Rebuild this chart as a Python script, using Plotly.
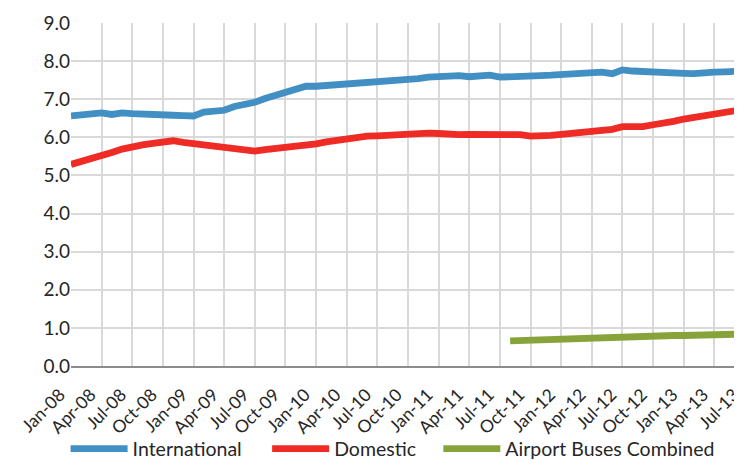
import plotly.graph_objects as go

months = []
for yr in range(8, 14):
    for m in ["Jan", "Feb", "Mar", "Apr", "May", "Jun", "Jul", "Aug", "Sep", "Oct", "Nov", "Dec"]:
        months.append(f"{m}-{yr:02d}")
months = months[:67]  # Jan-08 .. Jul-13

international = [
    6.56, 6.59, 6.62, 6.64, 6.60, 6.64, 6.62, 6.62, 6.62, 6.58, 6.58, 6.57,
    6.56, 6.66, 6.68, 6.71, 6.81, 6.86, 6.92, 7.02, 7.10, 7.18, 7.26, 7.34,
    7.34, 7.36, 7.37, 7.39, 7.39, 7.41, 7.44, 7.47, 7.51, 7.52, 7.54, 7.58,
    7.60, 7.61, 7.62, 7.59, 7.61, 7.63, 7.58, 7.58, 7.58, 7.59, 7.62, 7.63,
    7.64, 7.68, 7.68, 7.69, 7.71, 7.67, 7.77, 7.74, 7.72, 7.72, 7.69, 7.68,
    7.68, 7.67, 7.67, 7.71, 7.72, 7.74, 7.74,
]

domestic = [
    5.29, 5.36, 5.43, 5.49, 5.60, 5.69, 5.76, 5.80, 5.84, 5.88, 5.91, 5.87,
    5.84, 5.80, 5.76, 5.74, 5.68, 5.66, 5.64, 5.68, 5.71, 5.73, 5.75, 5.77,
    5.83, 5.88, 5.92, 5.97, 6.00, 6.03, 6.04, 6.06, 6.08, 6.08, 6.10, 6.11,
    6.10, 6.07, 6.07, 6.08, 6.08, 6.08, 6.04, 6.06, 6.07, 6.03, 6.03, 6.05,
    6.08, 6.10, 6.12, 6.15, 6.18, 6.21, 6.28, 6.26, 6.28, 6.33, 6.36, 6.42,
    6.48, 6.53, 6.56, 6.62, 6.67, 6.72, 6.74,
]

airport_buses = [None] * 43 + [
    0.66, 0.67, 0.68, 0.70, 0.71, 0.73, 0.74, 0.75, 0.76, 0.77, 0.78, 0.78,
    0.79, 0.79, 0.79, 0.80, 0.80, 0.80, 0.81, 0.81, 0.82, 0.83, 0.84, 0.84,
]

tick_labels = months[::3]
y_ticks = [0, 1, 2, 3, 4, 5, 6, 7, 8, 9]

FONT = "Lato"
TXT = "#262626"

fig = go.Figure()
series = [
    ("International", international, "#418FC3", "legend", -0.008),
    ("Domestic", domestic, "#EE2B24", "legend2", 0.291),
    ("Airport Buses Combined", airport_buses, "#87A43C", "legend3", 0.545),
]
legend_cfg = {}
for name, vals, col, lg, lx in series:
    fig.add_trace(go.Scatter(
        x=months, y=vals, name=name, mode="lines",
        line=dict(color=col, width=6.8),
        connectgaps=False, legend=lg,
    ))
    legend_cfg[lg] = dict(
        orientation="h", x=lx, xanchor="left", y=-0.242, yanchor="middle",
        font=dict(family=FONT, size=19.5, color=TXT),
        itemwidth=57, bgcolor="rgba(0,0,0,0)",
    )

fig.update_layout(
    width=742, height=465,
    margin=dict(l=63, r=5, t=15, b=96),
    paper_bgcolor="white", plot_bgcolor="white",
    font=dict(family=FONT, size=19, color=TXT),
    showlegend=True,
    **legend_cfg,
)

fig.update_xaxes(
    type="category", range=[0, 66],
    tickmode="array", tickvals=tick_labels, ticktext=tick_labels,
    tickangle=-45, showgrid=True, gridcolor="#D9D9D9", gridwidth=1.5,
    zeroline=False, ticks="",
    tickfont=dict(family=FONT, size=17.5, color=TXT),
    ticklabelshift=-11, ticklabelstandoff=10,
    automargin=False,
    showline=True, linecolor="#8C8C8C", linewidth=1.5,
)
fig.update_yaxes(
    range=[0, 9], tickmode="array", tickvals=y_ticks,
    ticktext=[f"{v:.1f}" for v in y_ticks],
    showgrid=True, gridcolor="#D9D9D9", gridwidth=1.5,
    zeroline=False, showline=False, ticks="",
    tickfont=dict(family=FONT, size=19, color=TXT),
    automargin=False,
)

fig.write_html("out.html")
